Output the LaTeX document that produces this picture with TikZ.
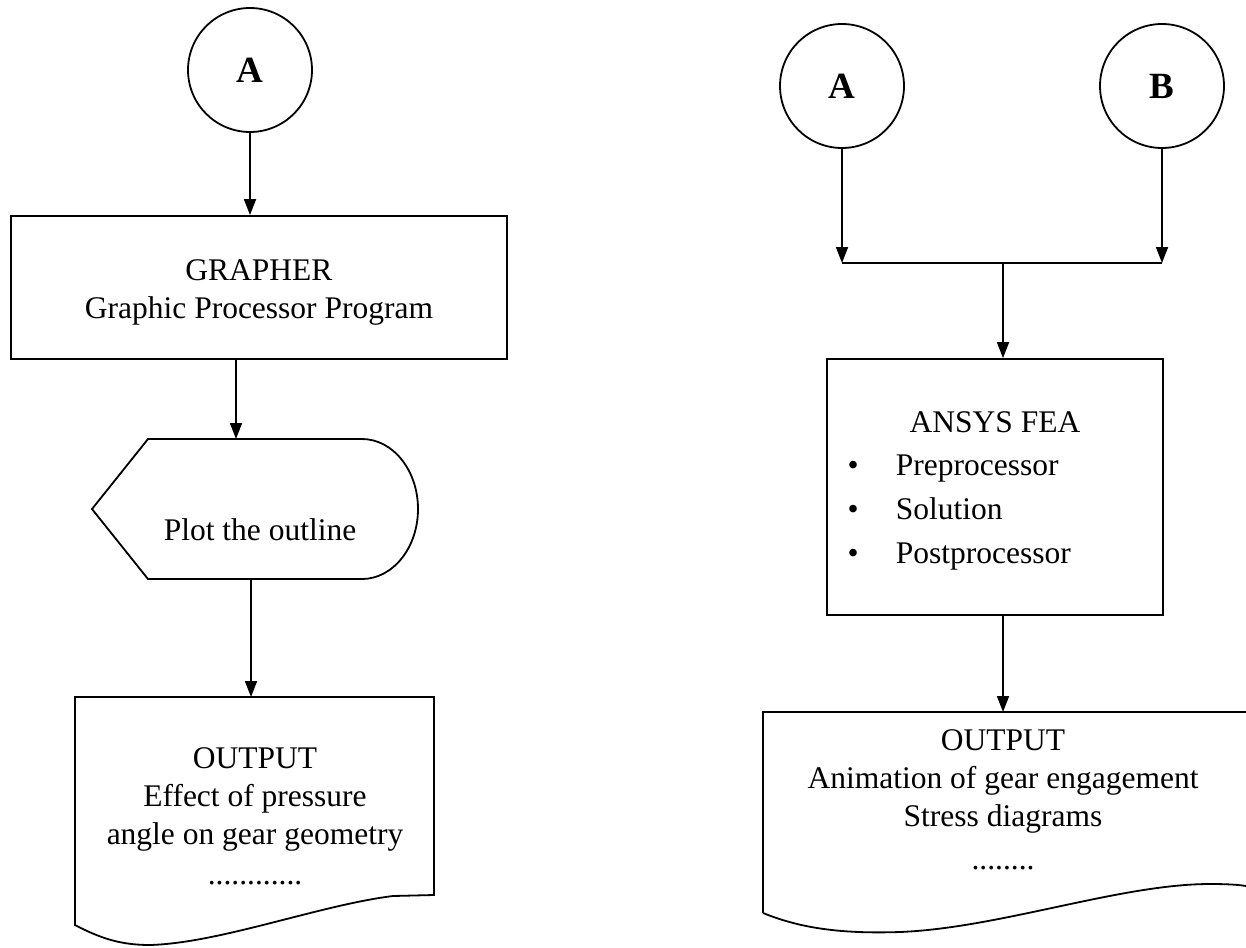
\documentclass[tikz,border=0pt]{standalone}
\usepackage{fontspec}
\setmainfont{Liberation Serif}
\usepackage{tikz}
\usetikzlibrary{arrows.meta}

\begin{document}
\begin{tikzpicture}[x=1pt,y=-1pt,line width=1.8pt,
		font=\fontsize{31.5}{38}\selectfont]
		\useasboundingbox (0,0) rectangle (1246,947);

		\begin{scope}[every node/.style={circle,draw,minimum size=124pt,font=\fontsize{37}{40}\selectfont\bfseries}]
			\node (A1) at (250,70) {A};

			\node (A2) at (842,86) {A};
			\node (B) at (1162,86) {B};
		\end{scope}

		\begin{scope}[every node/.style={rectangle,align=center}]
			\node[draw,minimum width=496pt,minimum height=143pt] (grapher) at (259,287.5) {};
			\node[minimum width=326pt,minimum height=140pt,outer sep=0pt] (plot) at (255,509) {};
			\node[minimum width=359pt,minimum height=228pt,outer sep=0pt] (out1) at (254.5,811) {};

			\node[draw,minimum width=336pt,minimum height=256pt] (ansys) at (995,487) {};
			\node[minimum width=483pt,minimum height=201pt,outer sep=0pt] (out2) at (1004.5,812.5) {};
		\end{scope}

		\begin{scope}[every node/.style={inner sep=0pt,align=center}]
			\node[anchor=north] (graphertext) at (259,258.7) {GRAPHER\\Graphic Processor Program};
			\node[anchor=base] (plotlabel) at (260,540) {Plot the outline};
			\node[anchor=north] (out1text) at (255,746.7) {OUTPUT\\Effect of pressure\\angle on gear geometry\\[2pt]............};

			\node[anchor=base] (ansystitle) at (995,432) {ANSYS FEA};
			\foreach \entry [count=\i] in {Preprocessor,Solution,Postprocessor} {
				\node[anchor=base] (dot\i) at (853,{431+44*\i}) {\textbullet};
				\node[anchor=base west] (entry\i) at (895,{431+44*\i}) {\entry};
			}
			\node[anchor=north] (out2text) at (1003,728.7) {OUTPUT\\Animation of gear engagement\\Stress diagrams\\[5pt]........};
		\end{scope}

		% display shape and the two document shapes
		\draw (plot.west) -- ([xshift=56pt]plot.north west) -- ([xshift=-56pt]plot.north east)
			arc[start angle=90,end angle=-90,x radius=56pt,y radius=70pt] -- ([xshift=56pt]plot.south west) -- cycle;
		\draw (out1.north west) -- (out1.north east) -- ([yshift=30pt]out1.south east) -- (393,896)
			.. controls (320,905) and (220,943) .. (150,945)
			.. controls (120,945) and (100,938) .. (out1.south west) -- cycle;
		\draw (out2.south west) -- (out2.north west) -- (out2.north east);
		\draw (out2.south west) .. controls (800,928) and (840,934) .. (900,932)
			.. controls (1000,928) and (1120,884) .. (1210,884)
			.. controls (1230,884) and (1240,885) .. (1246,886);

		\begin{scope}[>={Triangle[length=16pt,width=12pt]}]
			\coordinate (join) at (1003,263);

			\path [->] (A1) edge (A1 |- grapher.north);
			\path [->] ([xshift=-23pt]grapher.south) edge ([xshift=-23pt]grapher.south |- plot.north);
			\path [->] ([xshift=-4pt]plot.south) edge ([xshift=-4pt]plot.south |- out1.north);

			\path [->] (A2) edge (A2 |- join);
			\path [->] (B) edge (B |- join);
			\draw (A2 |- join) -- (B |- join);
			\path [->] (join) edge (join |- ansys.north);
			\path [->] (join |- ansys.south) edge (join |- out2.north);
		\end{scope}
		\end{tikzpicture}
\end{document}
